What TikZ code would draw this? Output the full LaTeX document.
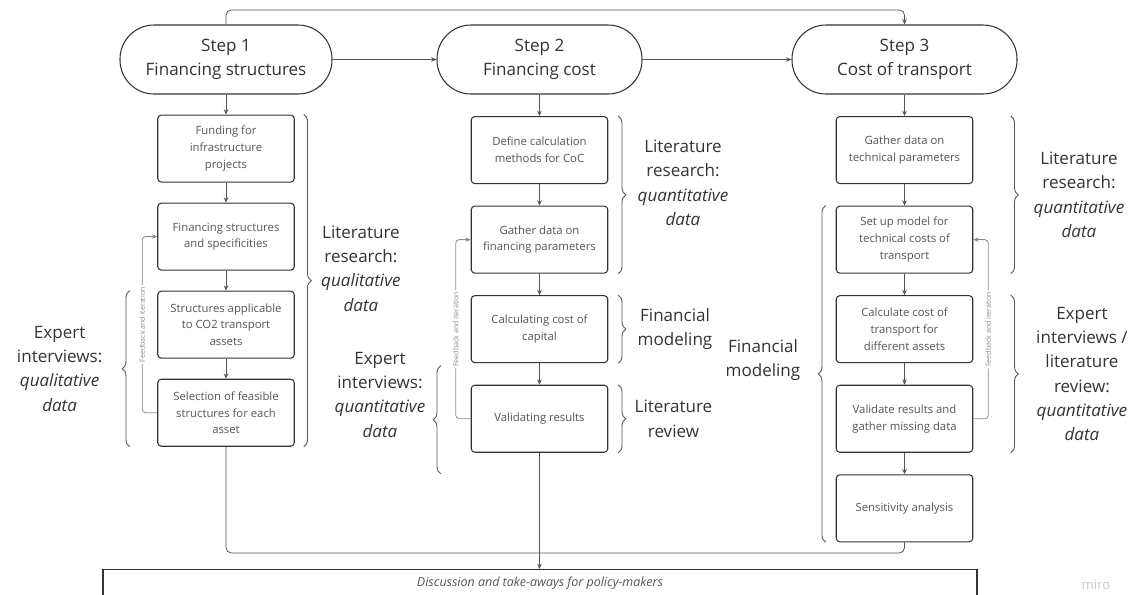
\documentclass[tikz,border=0pt]{standalone}
\usepackage{fontspec}
\setmainfont{Open Sans}
\usetikzlibrary{decorations.pathreplacing, calc, arrows.meta, positioning}
\definecolor{inkdark}{HTML}{333333}
\definecolor{inkgray}{HTML}{555555}
\definecolor{loopgray}{HTML}{8A8A8A}
\tikzset{
  stage/.style={
    rectangle, rounded corners=0.68cm, minimum height=1.38cm,
    align=center, draw=inkdark, line width=0.6pt,
    text=inkdark, font=\fontsize{9.7}{13.4}\selectfont
  },
  task/.style={
    rectangle, rounded corners=2pt, minimum width=2.73cm, minimum height=1.34cm,
    align=center, draw=inkdark, line width=0.6pt, inner sep=1pt,
    text=inkgray, font=\fontsize{6.45}{9.5}\selectfont
  },
  bracegroup/.style={
    decorate, decoration={brace, amplitude=0.15cm}, draw=inkgray, line width=0.5pt
  },
  method/.style={
    align=center, inner sep=0pt, text=inkdark,
    font=\fontsize{9.7}{13.8}\selectfont
  },
  arrow/.style={
    -{Stealth[length=3pt, width=2.6pt]}, line width=0.45pt, draw=inkgray
  },
  feedback/.style={
    -{Stealth[length=3pt, width=2.6pt]}, line width=0.45pt, draw=loopgray,
    rounded corners=2pt
  },
  feedbacktext/.style={
    rotate=90, fill=white, inner sep=1pt, text=loopgray,
    font=\fontsize{4}{5}\selectfont
  }
}

\begin{document}
\begin{tikzpicture}[
  node distance=0.43cm,
  disc/.style={rectangle, draw=inkdark, line width=0.6pt, minimum width=17.48cm,
    minimum height=0.56cm, text=inkgray, font=\fontsize{7.1}{9}\selectfont\itshape}
]
\useasboundingbox (0,0) rectangle (22.86,-11.88);

\node[stage, minimum width=4.24cm] (step1) at (4.52,-1.19) {Step 1\\Financing structures};
\node[stage, minimum width=4.10cm] (step2) at (10.79,-1.19) {Step 2\\Financing cost};
\node[stage, minimum width=4.50cm] (step3) at (18.09,-1.19) {Step 3\\Cost of transport};

\node[task, below=0.4cm of step1] (fund) {Funding for\\infrastructure\\projects};
\node[task, below=0.4cm of fund] (struct) {Financing structures\\and specificities};
\node[task, below=0.4cm of struct] (apply) {Structures applicable\\to CO2 transport\\assets};
\node[task, below=0.4cm of apply] (select) {Selection of feasible\\structures for each\\asset};

\node[task, below=of step2] (define) {Define calculation\\methods for CoC};
\node[task, below=of define] (gather) {Gather data on\\financing parameters};
\node[task, below=of gather] (calc) {Calculating cost of\\capital};
\node[task, below=of calc] (valid) {Validating results};

\node[task, below=of step3] (tech) {Gather data on\\technical parameters};
\node[task, below=of tech] (model) {Set up model for\\technical costs of\\transport};
\node[task, below=of model] (cost) {Calculate cost of\\transport for\\different assets};
\node[task, below=of cost] (check) {Validate results and\\gather missing data};
\node[task, below=of check] (sens) {Sensitivity analysis};

\node[disc, anchor=north] (disc) at (10.80,-11.38) {Discussion and take-aways for policy-makers};
\coordinate (join) at (10.79,-11.06);
\node[text=black!22, font=\fontsize{7.5}{9}\selectfont] (miro) at (21.92,-11.70) {miro};

\draw[arrow, rounded corners=3pt] (step1.north) -- ++(0,0.29) -| (step3.north);
\draw[arrow] (step1) -- (step2);
\draw[arrow] (step2) -- (step3);
\foreach \a/\b in {step1/fund, fund/struct, struct/apply, apply/select,
  step2/define, define/gather, gather/calc, calc/valid,
  step3/tech, tech/model, model/cost, cost/check, check/sens}
  \draw[arrow] (\a) -- (\b);
\draw[line width=0.45pt, draw=inkgray, rounded corners=3pt] (select.south) |- (join) -| (sens.south);
\draw[arrow] (valid.south) -- (valid.south |- disc.north);

\draw[feedback] (select.west) -- ++(-0.3,0) |- node[feedbacktext, pos=0.25] {Feedback and iteration} (struct.west);
\draw[feedback] (valid.west) -- ++(-0.3,0) |- node[feedbacktext, pos=0.25] {Feedback and iteration} (gather.west);
\draw[feedback] (check.east) -- ++(0.3,0) |- node[feedbacktext, pos=0.25] {Feedback and iteration} (model.east);

\draw[bracegroup] ([xshift=0.18cm]fund.north east) -- ([xshift=0.18cm]select.south east)
  node[method, midway, right=0.34cm, yshift=0.24cm] {Literature\\research:\\\textit{qualitative}\\\textit{data}};
\draw[bracegroup] ([xshift=-0.55cm]select.south west) -- ([xshift=-0.55cm]apply.north west)
  node[method, midway, left=0.54cm] {Expert\\interviews:\\\textit{qualitative}\\\textit{data}};

\draw[bracegroup] ([xshift=0.2cm]define.north east) -- ([xshift=0.2cm]gather.south east)
  node[method, midway, right=0.38cm, yshift=0.24cm] {Literature\\research:\\\textit{quantitative}\\\textit{data}};
\draw[bracegroup] ([xshift=0.2cm]calc.north east) -- ([xshift=0.2cm]calc.south east)
  node[method, midway, right=0.38cm] {Financial\\modeling};
\draw[bracegroup] ([xshift=0.2cm]valid.north east) -- ([xshift=0.2cm]valid.south east)
  node[method, midway, right=0.32cm] {Literature\\review};
\draw[bracegroup] ([xshift=-0.6cm,yshift=-0.42cm]valid.south west) -- ([xshift=-0.6cm,yshift=0.38cm]valid.north west)
  node[method, midway, left=0.3cm, yshift=0.5cm] {Expert\\interviews:\\\textit{quantitative}\\\textit{data}};

\draw[bracegroup] ([xshift=0.75cm]tech.north east) -- ([xshift=0.75cm]model.south east)
  node[method, midway, right=0.45cm] {Literature\\research:\\\textit{quantitative}\\\textit{data}};
\draw[bracegroup] ([xshift=0.75cm]cost.north east) -- ([xshift=0.75cm]check.south east)
  node[method, midway, right=0.5cm] {Expert\\interviews /\\literature\\review:\\\textit{quantitative}\\\textit{data}};
\draw[bracegroup] ([xshift=-0.2cm]sens.south west) -- ([xshift=-0.2cm]model.north west)
  node[method, midway, left=0.5cm, yshift=0.28cm] {Financial\\modeling};
\end{tikzpicture}
\end{document}
